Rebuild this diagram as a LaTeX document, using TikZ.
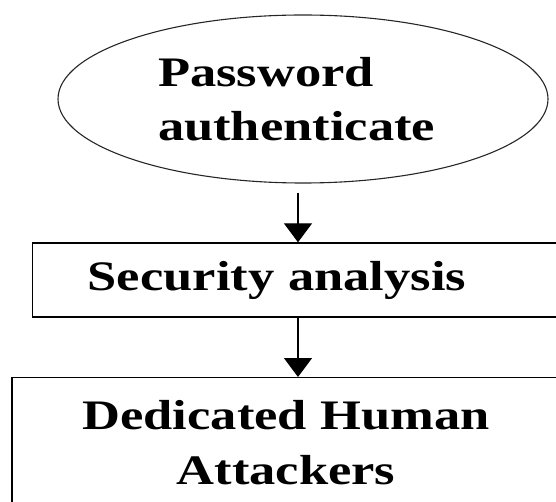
\documentclass[tikz,border=0pt]{standalone}
\usepackage{fontspec}
\setmainfont{Liberation Serif}[FakeStretch=1.25]
\usetikzlibrary{shapes.geometric,arrows.meta,positioning}

\tikzset{
  startnode/.style={ellipse, draw=black!85, line width=1.1pt, minimum width=490pt,
    minimum height=168pt, inner sep=0pt, text width=290pt, align=left},
  procbox/.style={rectangle, draw=black, line width=1.4pt, inner ysep=0pt},
  arr/.style={line width=1.4pt, -{Triangle[width=28pt,length=19pt]}}
}

\begin{document}
\begin{tikzpicture}[x=1pt,y=-1pt,font=\fontsize{42}{54.5}\selectfont\bfseries]
\useasboundingbox (0,0) rectangle (556,502);

% Nodes
  \node[startnode] (Pw) at (303,99) {Password\\authenticate};
  \node[procbox, anchor=west, minimum height=74pt, text width=500pt,
        inner xsep=55pt, align=left] (Sec) at (32,280) {Security analysis};
  \node[procbox, anchor=north, minimum height=130pt, minimum width=548pt,
        align=center] (Att) at (286,377) {Dedicated Human\\Attackers};
  \coordinate (ax) at (298,0);

% Edges
  \draw[arr] ([yshift=-9pt]Pw.south -| ax) -- (Sec.north -| ax);
  \draw[arr] (Sec.south -| ax) -- (Att.north -| ax);

\end{tikzpicture}
\end{document}
